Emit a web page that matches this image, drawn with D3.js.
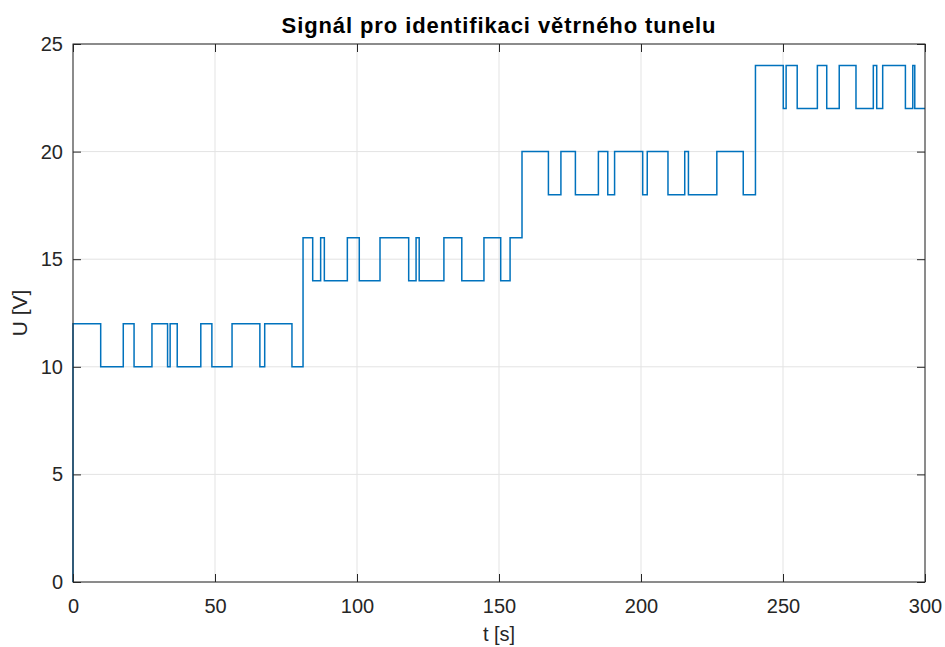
<!DOCTYPE html>
<html>
<head>
<meta charset="utf-8">
<script src="https://cdn.jsdelivr.net/npm/d3@7"></script>
<style>
  body { margin: 0; background: #fff; }
  svg { display: block; font-family: "Liberation Sans", Arial, sans-serif; }
</style>
</head>
<body>
<svg></svg>
<script>
// switching instants of the step signal [s] and the level held from each instant [V]
const stepTimes = [0, 0, 9.75, 17.7, 21.5, 27.8, 33.3, 34.2, 36.7, 45.0, 48.9, 56.0, 65.8, 67.5, 77.1,
    81.0, 84.4, 87.2, 88.5, 96.6, 100.8, 108.1, 118.2, 120.8, 121.9, 130.6, 136.9, 144.7, 150.6, 153.9,
    158.1, 167.4, 171.8, 176.9, 185.0, 188.3, 190.7, 200.6, 202.2, 209.5, 215.4, 216.7, 226.7, 236.0,
    240.3, 250.1, 251.1, 255.0, 262.1, 265.4, 269.8, 275.7, 281.8, 283.0, 285.1, 293.1, 295.7, 296.4, 300];
const stepValues = [0, 12, 10, 12, 10, 12, 10, 12, 10, 12, 10, 12, 10, 12, 10,
    16, 14, 16, 14, 16, 14, 16, 14, 16, 14, 16, 14, 16, 14, 16,
    20, 18, 20, 18, 20, 18, 20, 18, 20, 18, 20, 18, 20, 18,
    24, 22, 24, 22, 24, 22, 24, 22, 24, 22, 24, 22, 24, 22, 22];
const xTicks = [0, 50, 100, 150, 200, 250, 300];
const yTicks = [0, 5, 10, 15, 20, 25];

const width = 945;
const height = 647;
const margin = { top: 44, left: 73, bottom: 65, right: 20 };
const w = width - margin.left - margin.right;
const h = height - margin.top - margin.bottom;
const axisColor = "#262626";

const data = stepTimes.map((t, i) => ({ t: t, u: stepValues[i] }));

let svg = d3.select("svg")
    .attr("width", width)
    .attr("height", height);

let g = svg.append("g")
    .attr("transform", `translate(${margin.left}, ${margin.top})`);

let x = d3.scaleLinear().domain([0, 300]).range([0, w]);
let y = d3.scaleLinear().domain([0, 25]).range([h, 0]);

// grid
g.append("g")
    .selectAll("line.gx")
    .data(xTicks)
    .enter().append("line")
    .attr("x1", d => x(d)).attr("x2", d => x(d))
    .attr("y1", 0).attr("y2", h)
    .attr("stroke", "#e3e3e3").attr("stroke-width", 1);
g.append("g")
    .selectAll("line.gy")
    .data(yTicks)
    .enter().append("line")
    .attr("x1", 0).attr("x2", w)
    .attr("y1", d => y(d)).attr("y2", d => y(d))
    .attr("stroke", "#e3e3e3").attr("stroke-width", 1);

// signal
let line = d3.line()
    .x(d => x(d.t))
    .y(d => y(d.u))
    .curve(d3.curveStepAfter);

g.append("path")
    .datum(data)
    .attr("fill", "none")
    .attr("stroke", "#0072bd")
    .attr("stroke-width", 1.5)
    .attr("d", line);

// axes (ticks pointing inside, MATLAB box style)
function styleAxis(sel) {
    sel.select(".domain").remove();
    sel.selectAll(".tick line").attr("stroke", axisColor);
    sel.selectAll(".tick text")
        .attr("fill", axisColor)
        .style("font-size", "20px")
        .style("font-family", "'Liberation Sans', Arial, sans-serif");
}

g.append("g")
    .attr("transform", `translate(0, ${h})`)
    .call(d3.axisBottom(x).tickValues(xTicks).tickSizeInner(-8).tickSizeOuter(0).tickPadding(17))
    .call(styleAxis);
g.append("g")
    .call(d3.axisTop(x).tickValues(xTicks).tickSizeInner(-8).tickSizeOuter(0).tickFormat(""))
    .call(styleAxis);
g.append("g")
    .call(d3.axisLeft(y).tickValues(yTicks).tickSizeInner(-8).tickSizeOuter(0).tickPadding(10))
    .call(styleAxis);
g.append("g")
    .attr("transform", `translate(${w}, 0)`)
    .call(d3.axisRight(y).tickValues(yTicks).tickSizeInner(-8).tickSizeOuter(0).tickFormat(""))
    .call(styleAxis);

g.append("rect")
    .attr("x", 0).attr("y", 0)
    .attr("width", w).attr("height", h)
    .attr("fill", "none")
    .attr("stroke", axisColor)
    .attr("stroke-width", 1);

// labels
svg.append("text")
    .attr("x", margin.left + w / 2)
    .attr("y", 33)
    .attr("text-anchor", "middle")
    .style("font-size", "22px")
    .style("font-weight", "bold")
    .style("letter-spacing", "0.9px")
    .attr("fill", "#000")
    .text("Signál pro identifikaci větrného tunelu");

svg.append("text")
    .attr("x", margin.left + w / 2)
    .attr("y", 641)
    .attr("text-anchor", "middle")
    .style("font-size", "20px")
    .attr("fill", axisColor)
    .text("t [s]");

svg.append("text")
    .attr("transform", `translate(27, ${margin.top + h / 2}) rotate(-90)`)
    .attr("text-anchor", "middle")
    .style("font-size", "21px")
    .attr("fill", axisColor)
    .text("U [V]");
</script>
</body>
</html>
